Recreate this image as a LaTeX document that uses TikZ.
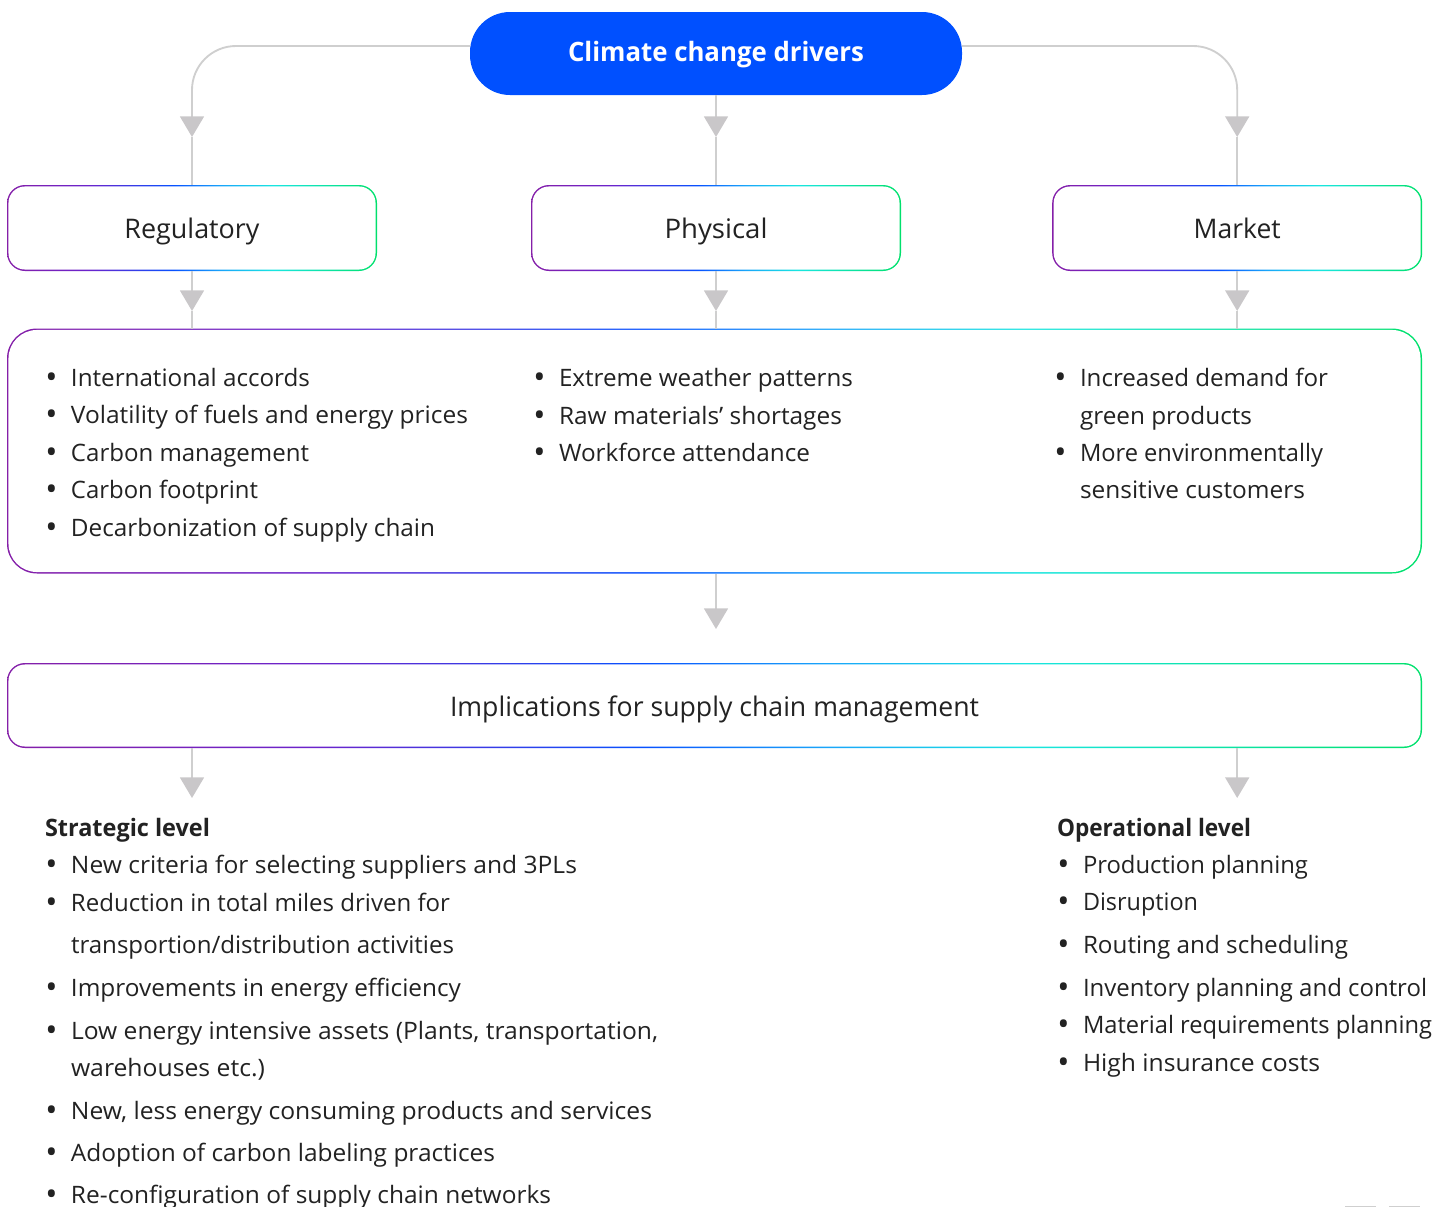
\documentclass[tikz,border=0pt]{standalone}
\usepackage{fontspec}
\setmainfont{Open Sans}
\usetikzlibrary{arrows.meta,calc}
\pgfdeclarehorizontalshading{brd}{100bp}{rgb(0bp)=(0.52,0.12,0.66);rgb(25bp)=(0.52,0.12,0.66);rgb(36bp)=(0.42,0.14,0.80);rgb(47.5bp)=(0.03,0.32,1);rgb(54bp)=(0.10,0.65,0.98);rgb(61bp)=(0.10,0.90,0.88);rgb(75bp)=(0,0.88,0.42);rgb(100bp)=(0,0.88,0.42)}
\definecolor{ink}{HTML}{222222}
\definecolor{conncol}{HTML}{CFCFCF}
\definecolor{tipcol}{HTML}{C9C7C9}
\definecolor{pillblue}{HTML}{0050FF}
\tikzset{
  gradbox/.style n args={3}{shape=rectangle,shade,shading=brd,rounded corners=#3*0.75pt,
    minimum width=#1*0.75pt,minimum height=#2*0.75pt,inner sep=0pt,outer sep=0pt,text=ink,
    text height=16pt,text depth=0pt,font=\fontsize{20.25pt}{24pt}\selectfont,
    path picture={\fill[white,rounded corners=#3*0.75pt-1.1pt]
      ([shift={(1.1pt,1.1pt)}]path picture bounding box.south west) rectangle
      ([shift={(-1.1pt,-1.1pt)}]path picture bounding box.north east);}},
  conn/.style={draw=conncol,line width=1.4pt},
  tipped/.style={conn,-{Triangle[width=18pt,length=15.5pt,color=tipcol]}},
  lineitem/.style={anchor=base west,inner sep=0pt,outer sep=0pt,text=ink,font=\fontsize{18pt}{22pt}\selectfont},
  headitem/.style={lineitem,font=\fontsize{18pt}{22pt}\selectfont\bfseries},
}
\newcommand{\bul}{\makebox[19.5pt][l]{\hspace{0.3pt}\raisebox{-2.1pt}{\scalebox{1.35}{•}}}}
\newcommand{\fitw}[2]{\resizebox{\dimexpr #1pt*3/4\relax}{\height}{#2}}
\begin{document}
\begin{tikzpicture}[x=0.75pt,y=-0.75pt]
\useasboundingbox (0,0) rectangle (1440,1207);
% nodes
\node[shape=rectangle,fill=pillblue,rounded corners=30pt,minimum width=369pt,minimum height=62.25pt,inner sep=0pt,outer sep=0pt,text=white,text height=15.4pt,text depth=2.8pt,font=\fontsize{20pt}{24pt}\selectfont\bfseries] (pill) at (716,53.5) {\fitw{296}{Climate change drivers}};
\node[gradbox={370}{86}{18}] (reg) at (192,228) {\fitw{135}{Regulatory}};
\node[gradbox={370}{86}{18}] (phy) at (716,228) {\fitw{103}{Physical}};
\node[gradbox={370}{86}{18}] (mkt) at (1237.2,228) {\fitw{87}{Market}};
\node[gradbox={1415}{245}{30}] (lst) at (714.5,451) {};
\node[gradbox={1415}{85}{18}] (imp) at (714.5,705.5) {\fitw{529}{Implications for supply chain management}};
% connector points
\coordinate (ls) at (pill.west |- 0,46);
\coordinate (rs) at (pill.east |- 0,46);
\coordinate (t1) at (reg.north |- 0,137);
\coordinate (t2) at (phy.north |- 0,137);
\coordinate (t3) at (mkt.north |- 0,137);
\coordinate (m1) at (reg.south |- 0,311);
\coordinate (m2) at (phy.south |- 0,311);
\coordinate (m3) at (mkt.south |- 0,311);
\coordinate (e1) at (pill.south |- 0,629);
\coordinate (d1) at (reg.south |- 0,798);
\coordinate (d2) at (mkt.south |- 0,798);
% connectors
\draw[tipped,rounded corners=33pt] (ls) -| (t1);
\draw[conn] (t1) -- (reg.north);
\draw[tipped] (pill.south) -- (t2);
\draw[conn] (t2) -- (phy.north);
\draw[tipped,rounded corners=33pt] (rs) -| (t3);
\draw[conn] (t3) -- (mkt.north);
\draw[tipped] (reg.south) -- (m1);
\draw[conn] (m1) -- (reg.south |- lst.north);
\draw[tipped] (phy.south) -- (m2);
\draw[conn] (m2) -- (phy.south |- lst.north);
\draw[tipped] (mkt.south) -- (m3);
\draw[conn] (m3) -- (mkt.south |- lst.north);
\draw[tipped] (phy.south |- lst.south) -- (e1);
\draw[tipped] (reg.south |- imp.south) -- (d1);
\draw[tipped] (mkt.south |- imp.south) -- (d2);
% column one
\node[lineitem] (a1) at (45,386) {\bul\fitw{239}{International accords}};
\node[lineitem] (a2) at (45,423) {\bul\fitw{397}{Volatility of fuels and energy prices}};
\node[lineitem] (a3) at (45,461) {\bul\fitw{238}{Carbon management}};
\node[lineitem] (a4) at (45,498) {\bul\fitw{187}{Carbon footprint}};
\node[lineitem] (a5) at (45,536) {\bul\fitw{364}{Decarbonization of supply chain}};
% column two
\node[lineitem] (b1) at (533,386) {\bul\fitw{294}{Extreme weather patterns}};
\node[lineitem] (b2) at (533,424) {\bul\fitw{283}{Raw materials’ shortages}};
\node[lineitem] (b3) at (533,461) {\bul\fitw{251}{Workforce attendance}};
% column three
\node[lineitem] (c1) at (1054,386) {\bul\fitw{248}{Increased demand for}};
\node[lineitem] (c2) at (1080,424) {\fitw{172}{green products}};
\node[lineitem] (c3) at (1054,461) {\bul\fitw{243}{More environmentally}};
\node[lineitem] (c4) at (1080,498) {\fitw{225}{sensitive customers}};
% strategic
\node[headitem] (s0) at (45,836) {\fitw{165}{Strategic level}};
\node[lineitem] (s1) at (45,873) {\bul\fitw{506}{New criteria for selecting suppliers and 3PLs}};
\node[lineitem] (s2) at (45,911) {\bul\fitw{379}{Reduction in total miles driven for}};
\node[lineitem] (s3) at (71,953) {\fitw{383}{transportion/distribution activities}};
\node[lineitem] (s4) at (45,996) {\bul\fitw{390}{Improvements in energy efficiency}};
\node[lineitem] (s5) at (45,1039) {\bul\fitw{587}{Low energy intensive assets (Plants, transportation,}};
\node[lineitem] (s6) at (71,1076) {\fitw{194}{warehouses etc.)}};
\node[lineitem] (s7) at (45,1119) {\bul\fitw{581}{New, less energy consuming products and services}};
\node[lineitem] (s8) at (45,1161) {\bul\fitw{424}{Adoption of carbon labeling practices}};
\node[lineitem] (s9) at (45,1203) {\bul\fitw{480}{Re-configuration of supply chain networks}};
% operational
\node[headitem] (o0) at (1057,836) {\fitw{194}{Operational level}};
\node[lineitem] (o1) at (1057,873) {\bul\fitw{225}{Production planning}};
\node[lineitem] (o2) at (1057,910) {\bul\fitw{115}{Disruption}};
\node[lineitem] (o3) at (1057,953) {\bul\fitw{265}{Routing and scheduling}};
\node[lineitem] (o4) at (1057,996) {\bul\fitw{344}{Inventory planning and control}};
\node[lineitem] (o5) at (1057,1033) {\bul\fitw{349}{Material requirements planning}};
\node[lineitem] (o6) at (1057,1071) {\bul\fitw{237}{High insurance costs}};
% cut-off marks at the lower edge
\fill[conncol] (1345,1206) rectangle (1376,1207);
\fill[conncol] (1389,1206) rectangle (1420,1207);
\end{tikzpicture}
\end{document}
